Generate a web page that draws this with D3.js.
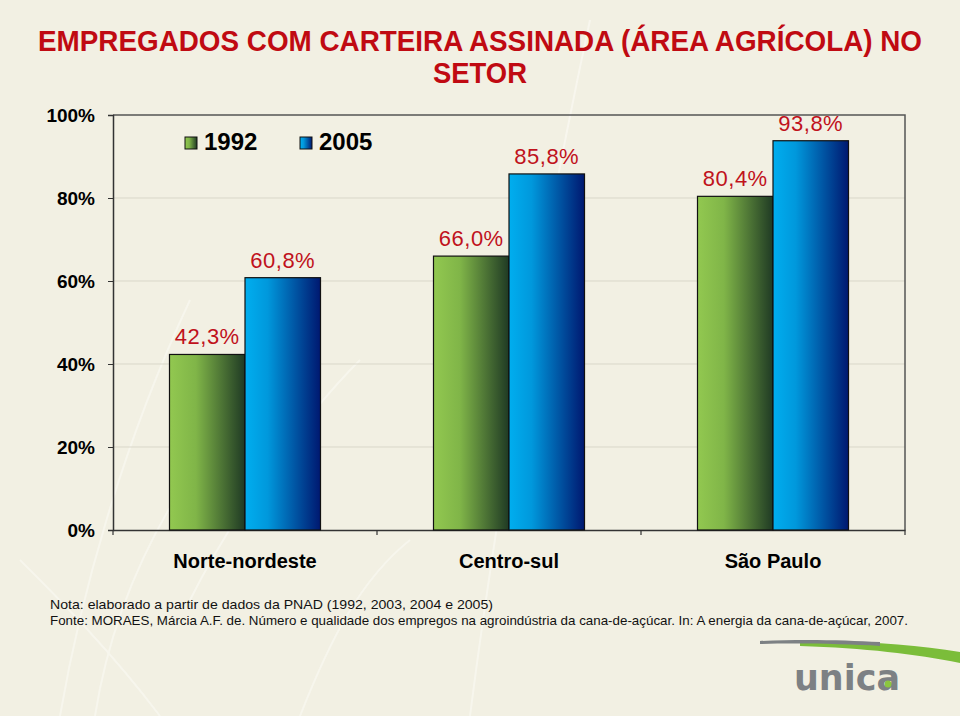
<!DOCTYPE html>
<html>
<head>
<meta charset="utf-8">
<script src="https://cdn.jsdelivr.net/npm/d3@7"></script>
<style>
  body { margin: 0; background: #f2f0e3; }
  svg { display: block; }
</style>
</head>
<body>
<svg id="chart" width="960" height="716"></svg>
<script>
const categories = ["Norte-nordeste", "Centro-sul", "São Paulo"];
const series = ["1992", "2005"];
const values1992 = [0.423, 0.660, 0.804];
const values2005 = [0.608, 0.858, 0.938];
const valueLabels1992 = ["42,3%", "66,0%", "80,4%"];
const valueLabels2005 = ["60,8%", "85,8%", "93,8%"];
const yTicks = [0, 0.2, 0.4, 0.6, 0.8, 1.0];
const titleLines = ["EMPREGADOS COM CARTEIRA ASSINADA (ÁREA AGRÍCOLA) NO", "SETOR"];
const notes = [
  "Nota: elaborado a partir de dados da PNAD (1992, 2003, 2004 e 2005)",
  "Fonte: MORAES, Márcia A.F. de. Número e qualidade dos empregos na agroindústria da cana-de-açúcar. In: A energia da cana-de-açúcar, 2007."
];

const svg = d3.select("#chart");
const W = 960, H = 716;
const plotL = 113, plotR = 905, plotT = 115, plotB = 530;

// background
svg.append("rect").attr("width", W).attr("height", H).attr("fill", "#f2f0e3");

// faint decorative grass strokes
const deco = svg.append("g").attr("fill", "none").attr("stroke", "#f9f8f0").attr("stroke-width", 2).attr("opacity", 0.8);
[
  "M60,716 C80,600 120,450 190,300",
  "M95,716 C110,620 150,520 230,420",
  "M20,560 C60,600 110,650 160,716",
  "M190,600 C230,520 300,420 360,360",
  "M470,716 C490,560 530,300 590,20",
  "M300,716 C330,640 360,580 410,540"
].forEach(d => deco.append("path").attr("d", d));

// gradients
const defs = svg.append("defs");
const gGreen = defs.append("linearGradient").attr("id", "gradGreen").attr("x1", "0").attr("x2", "1").attr("y1", "0").attr("y2", "0");
gGreen.append("stop").attr("offset", "0%").attr("stop-color", "#92c850");
gGreen.append("stop").attr("offset", "35%").attr("stop-color", "#80b548");
gGreen.append("stop").attr("offset", "100%").attr("stop-color", "#1f3a24");
const gBlue = defs.append("linearGradient").attr("id", "gradBlue").attr("x1", "0").attr("x2", "1").attr("y1", "0").attr("y2", "0");
gBlue.append("stop").attr("offset", "0%").attr("stop-color", "#00aeef");
gBlue.append("stop").attr("offset", "30%").attr("stop-color", "#0098dc");
gBlue.append("stop").attr("offset", "100%").attr("stop-color", "#001870");
const fills = { "1992": "url(#gradGreen)", "2005": "url(#gradBlue)" };

// title
svg.append("g").selectAll("text").data(titleLines).join("text")
  .attr("x", 480).attr("y", (d, i) => 51 + i * 32)
  .attr("text-anchor", "middle")
  .attr("fill", "#c00a12")
  .style("font-family", "'Liberation Sans Narrow', 'Liberation Sans', Arial, sans-serif")
  .style("font-weight", "bold")
  .style("font-size", "29px")
  .attr("textLength", (d, i) => i === 0 ? 884 : 94)
  .attr("lengthAdjust", "spacingAndGlyphs")
  .text(d => d);

// scales
const x = d3.scaleBand().domain(categories).range([plotL, plotR]).paddingInner(0.428).paddingOuter(0.214);
const xs = d3.scaleBand().domain(series).range([0, x.bandwidth()]);
const y = d3.scaleLinear().domain([0, 1]).range([plotB, plotT]);

// grid
svg.append("g").selectAll("line").data(yTicks.filter(t => t > 0 && t < 1)).join("line")
  .attr("x1", plotL).attr("x2", plotR)
  .attr("y1", d => y(d)).attr("y2", d => y(d))
  .attr("stroke", "#d9d7c9").attr("stroke-width", 1);

// frame: top and right
svg.append("path")
  .attr("d", `M${plotL},${plotT}H${plotR}V${plotB}`)
  .attr("fill", "none").attr("stroke", "#555").attr("stroke-width", 1.5);

// y axis
const yAxis = svg.append("g").attr("transform", `translate(${plotL},0)`)
  .call(d3.axisLeft(y).tickValues(yTicks).tickSize(5).tickPadding(13).tickFormat(d3.format(".0%")));
yAxis.select(".domain").attr("stroke", "#333").attr("stroke-width", 1.5);
yAxis.selectAll(".tick line").attr("stroke", "#333");
yAxis.selectAll(".tick text")
  .attr("fill", "#000")
  .style("font-family", "'Liberation Sans', Arial, sans-serif")
  .style("font-weight", "bold")
  .style("font-size", "19px");

// x axis
const xAxis = svg.append("g").attr("transform", `translate(0,${plotB})`)
  .call(d3.axisBottom(x).tickSize(0).tickPadding(24));
xAxis.select(".domain").attr("stroke", "#333").attr("stroke-width", 1.5);
xAxis.selectAll(".tick text")
  .attr("fill", "#000")
  .style("font-family", "'Liberation Sans', Arial, sans-serif")
  .style("font-weight", "bold")
  .style("font-size", "20px");
// boundary ticks between categories
const bounds = [plotL].concat(categories.map(c => x(c) + x.bandwidth() + x.step() * x.paddingInner() / 2));
svg.append("g").selectAll("line").data(bounds).join("line")
  .attr("x1", d => d).attr("x2", d => d)
  .attr("y1", plotB).attr("y2", plotB + 5)
  .attr("stroke", "#333").attr("stroke-width", 1.2);

// bars
const rows = categories.map((c, i) => ({
  cat: c,
  bars: [
    { s: "1992", v: values1992[i], label: valueLabels1992[i] },
    { s: "2005", v: values2005[i], label: valueLabels2005[i] }
  ]
}));
const groups = svg.append("g").selectAll("g").data(rows).join("g")
  .attr("transform", d => `translate(${x(d.cat)},0)`);
groups.selectAll("rect").data(d => d.bars).join("rect")
  .attr("x", d => xs(d.s))
  .attr("y", d => y(d.v))
  .attr("width", xs.bandwidth())
  .attr("height", d => plotB - y(d.v))
  .attr("fill", d => fills[d.s])
  .attr("stroke", "#111").attr("stroke-width", 1.2);
groups.selectAll("text").data(d => d.bars).join("text")
  .attr("x", d => xs(d.s) + xs.bandwidth() / 2)
  .attr("y", d => y(d.v) - 10)
  .attr("text-anchor", "middle")
  .attr("fill", "#c0121c")
  .style("font-family", "'Liberation Sans', Arial, sans-serif")
  .style("font-size", "22px")
  .style("letter-spacing", "0.5px")
  .text(d => d.label);

// legend
const legend = svg.append("g").selectAll("g").data(series).join("g")
  .attr("transform", (d, i) => `translate(${185 + i * 115},137)`);
legend.append("rect").attr("width", 12).attr("height", 12)
  .attr("fill", d => fills[d]).attr("stroke", "#111").attr("stroke-width", 1);
legend.append("text").attr("x", 19).attr("y", 13)
  .attr("fill", "#000")
  .style("font-family", "'Liberation Sans', Arial, sans-serif")
  .style("font-weight", "bold")
  .style("font-size", "24px")
  .text(d => d);

// notes
svg.append("g").selectAll("text").data(notes).join("text")
  .attr("x", 50).attr("y", (d, i) => 609 + i * 16)
  .attr("fill", "#111")
  .style("font-family", "'Liberation Sans', Helvetica, Arial, sans-serif")
  .style("font-size", "13px")
  .attr("textLength", (d, i) => i === 0 ? 443 : 858)
  .attr("lengthAdjust", "spacingAndGlyphs")
  .text(d => d);

// logo
const logo = svg.append("g");
logo.append("path")
  .attr("d", "M800,642 C860,640 915,645 960,652 L960,663 C915,654 865,648 800,646 Z")
  .attr("fill", "#7bbd3a");
logo.append("path")
  .attr("d", "M760,641 C800,639 845,640 880,642 L880,646 C845,644 800,643 760,644 Z")
  .attr("fill", "#7d8184");
logo.append("text")
  .attr("x", 794).attr("y", 690)
  .attr("fill", "#7d8184")
  .style("font-family", "'DejaVu Sans', sans-serif")
  .style("font-weight", "bold")
  .style("font-size", "36px")
  .attr("textLength", 106)
  .attr("lengthAdjust", "spacingAndGlyphs")
  .text("unica");
logo.append("circle").attr("cx", 888).attr("cy", 684).attr("r", 3.5).attr("fill", "#8cc63f");
</script>
</body>
</html>
